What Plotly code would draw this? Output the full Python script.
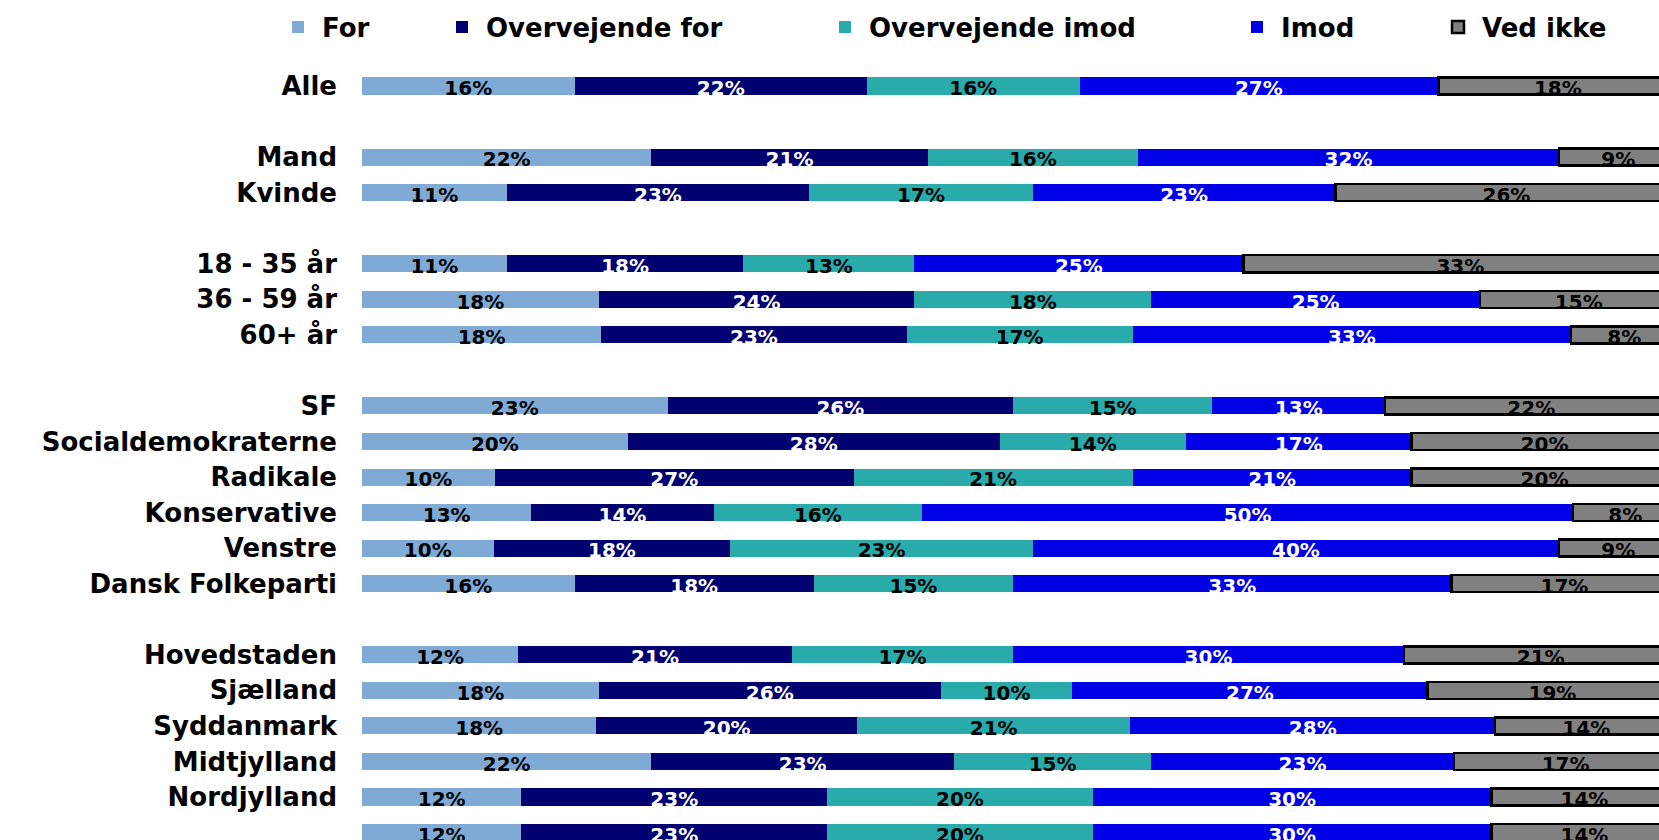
import plotly.graph_objects as go

categories = ["Alle", "Mand", "Kvinde", "18 - 35 år", "36 - 59 år", "60+ år",
              "SF", "Socialdemokraterne", "Radikale", "Konservative", "Venstre",
              "Dansk Folkeparti", "Hovedstaden", "Sjælland", "Syddanmark",
              "Midtjylland", "Nordjylland", ""]
# row slots (gaps between groups)
slots = [0, 2, 3, 5, 6, 7, 9, 10, 11, 12, 13, 14, 16, 17, 18, 19, 20, 21]

series_names = ["For", "Overvejende for", "Overvejende imod", "Imod", "Ved ikke"]
v_for = [16, 22, 11, 11, 18, 18, 23, 20, 10, 13, 10, 16, 12, 18, 18, 22, 12, 12]
v_ofor = [22, 21, 23, 18, 24, 23, 26, 28, 27, 14, 18, 18, 21, 26, 20, 23, 23, 23]
v_oimod = [16, 16, 17, 13, 18, 17, 15, 14, 21, 16, 23, 15, 17, 10, 21, 15, 20, 20]
v_imod = [27, 32, 23, 25, 25, 33, 13, 17, 21, 50, 40, 33, 30, 27, 28, 23, 30, 30]
v_vedikke = [18, 9, 26, 33, 15, 8, 22, 20, 20, 8, 9, 17, 21, 19, 14, 17, 14, 14]

series_values = [v_for, v_ofor, v_oimod, v_imod, v_vedikke]
colors = ["#7FAAD6", "#000070", "#2AABAB", "#0000E6", "#808080"]
text_colors = ["black", "white", "black", "white", "black"]

FONT = "DejaVu Sans"
W, H = 1659, 840
L, T = 362, 50
ROW = 35.55
FIRST = 86

fig = go.Figure()

for i, (name, vals) in enumerate(zip(series_names, series_values)):
    fig.add_trace(go.Bar(
        name=name, y=slots, x=vals, orientation="h", width=0.48,
        marker=dict(color=colors[i],
                    line=dict(color="black", width=2.5 if i == 4 else 0)),
        legend="legend" if i == 0 else f"legend{i+1}",
        hoverinfo="skip",
    ))

# labels centred in each (normalised) segment
row_sums = [sum(s[j] for s in series_values) for j in range(len(slots))]
for i, vals in enumerate(series_values):
    xs, ys, txt = [], [], []
    for j in range(len(slots)):
        before = sum(series_values[k][j] for k in range(i))
        xs.append((before + vals[j] / 2) / row_sums[j] * 100)
        ys.append(slots[j] + 0.12)
        txt.append(f"{vals[j]}%")
    fig.add_trace(go.Scatter(
        x=xs, y=ys, text=txt, mode="text", showlegend=False,
        textfont=dict(family=FONT, size=20, color=text_colors[i], weight="bold"),
        hoverinfo="skip", cliponaxis=False,
    ))

legend_x = [294, 458, 841, 1253, 1454]
legend_common = dict(orientation="h", xref="container", yref="container",
                     xanchor="left", yanchor="middle", y=1 - 27 / H,
                     itemwidth=38,
                     font=dict(family=FONT, size=26, color="black", weight="bold"),
                     bgcolor="rgba(0,0,0,0)", itemclick=False, itemdoubleclick=False)
layout_legends = {}
for i, lx in enumerate(legend_x):
    key = "legend" if i == 0 else f"legend{i+1}"
    layout_legends[key] = dict(legend_common, x=(lx - 20) / W)

fig.update_layout(
    width=W, height=H,
    barmode="stack", barnorm="percent",
    plot_bgcolor="white", paper_bgcolor="white",
    margin=dict(l=L, r=0, t=T, b=0, autoexpand=False),
    xaxis=dict(range=[0, 98.6], visible=False, fixedrange=True),
    yaxis=dict(range=[(H - FIRST) / ROW, -(FIRST - T) / ROW],
               tickvals=slots, ticktext=categories, showgrid=False,
               zeroline=False, ticks="", ticklabelstandoff=24,
               tickfont=dict(family=FONT, size=26, color="black", weight="bold"),
               fixedrange=True),
    showlegend=True,
    **layout_legends,
)

fig.write_html("out.html", config={"displayModeBar": False},
               post_script="document.body.style.margin='0';document.body.style.overflow='hidden';")
